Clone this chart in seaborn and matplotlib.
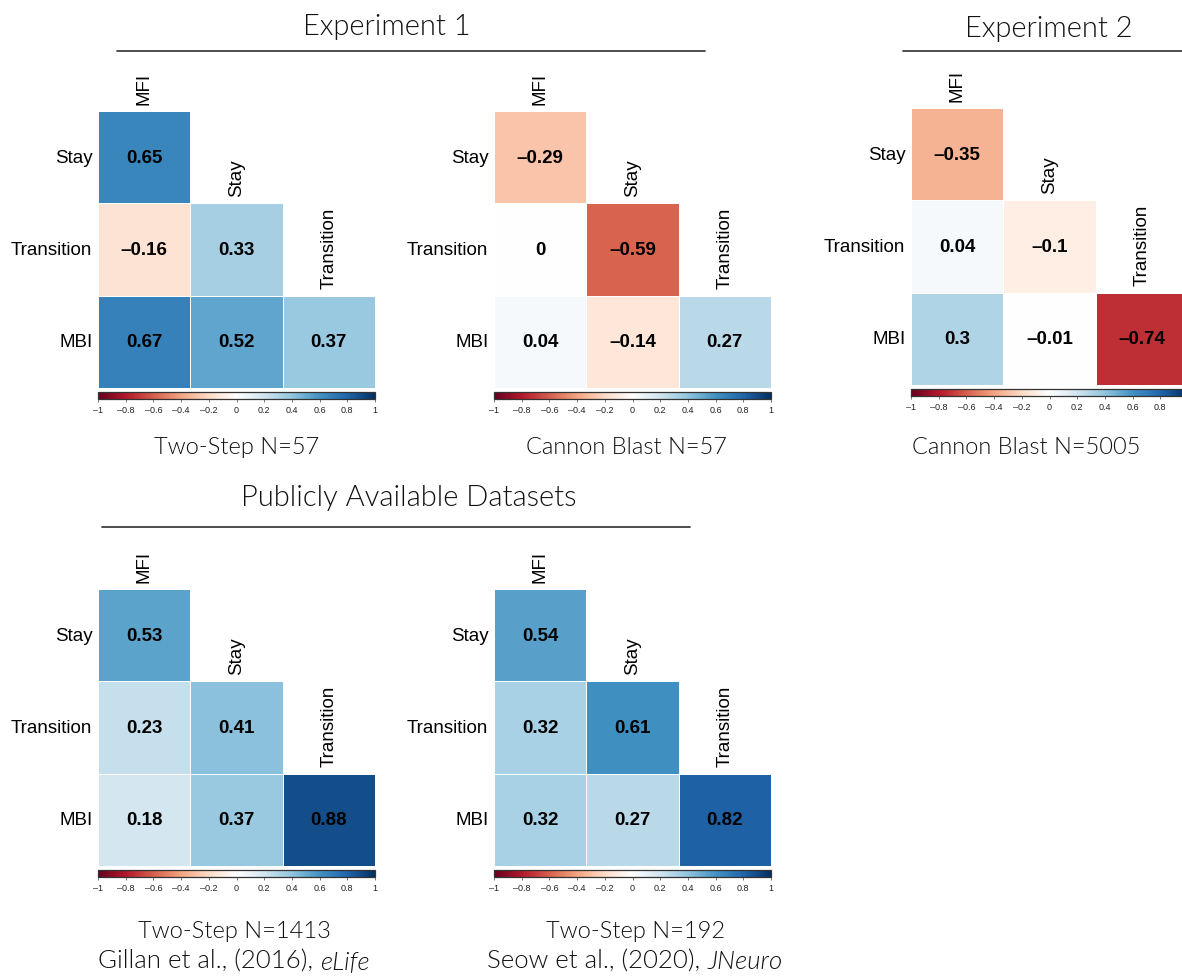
import numpy as np
import pandas as pd
import seaborn as sns
import matplotlib.pyplot as plt
from matplotlib.lines import Line2D
from matplotlib.colors import LinearSegmentedColormap

sns.set_theme(style="white")
plt.rcParams["font.family"] = ["Liberation Sans", "DejaVu Sans"]

# ---------------- data ----------------
row_labels = ["Stay", "Transition", "MBI"]
col_labels = ["MFI", "Stay", "Transition"]

# lower-triangle correlations (row by row)
exp1_two_step = [[0.65], [-0.16, 0.33], [0.67, 0.52, 0.37]]
exp1_cannon = [[-0.29], [0.0, -0.59], [0.04, -0.14, 0.27]]
exp2_cannon = [[-0.35], [0.04, -0.10], [0.30, -0.01, -0.74]]
gillan_two_step = [[0.53], [0.23, 0.41], [0.18, 0.37, 0.88]]
seow_two_step = [[0.54], [0.32, 0.61], [0.32, 0.27, 0.82]]

cbar_ticks = [-1, -0.8, -0.6, -0.4, -0.2, 0, 0.2, 0.4, 0.6, 0.8, 1]

# corrplot-style red/blue palette
palette_colors = ["#67001F", "#B2182B", "#D6604D", "#F4A582", "#FDDBC7", "#FFFFFF",
                  "#D1E5F0", "#92C5DE", "#4393C3", "#2166AC", "#053061"]
cmap = LinearSegmentedColormap.from_list("corr_rdbu", palette_colors, N=200)

captions = {
    "p1": [[("Two-Step N=57", "normal")]],
    "p2": [[("Cannon Blast N=57", "normal")]],
    "p3": [[("Cannon Blast N=5005", "normal")]],
    "p4": [[("Two-Step N=1413", "normal")],
           [("Gillan et al., (2016), ", "normal"), ("eLife", "italic")]],
    "p5": [[("Two-Step N=192", "normal")],
           [("Seow et al., (2020), ", "normal"), ("JNeuro", "italic")]],
}

# ---------------- layout ----------------
W, H = 1182, 978
fig = plt.figure(figsize=(W / 100, H / 100), dpi=100)
fig.patch.set_facecolor("white")


def add_ax(l, t, w, h):
    return fig.add_axes([l / W, 1 - (t + h) / H, w / W, h / H])


def fmt(v):
    s = f"{v:g}"
    if s == "-0":
        s = "0"
    return s.replace("-", "\u2013")


def to_frame(tri):
    m = np.full((3, 3), np.nan)
    for i, row in enumerate(tri):
        for j, v in enumerate(row):
            m[i, j] = v
    return pd.DataFrame(m, index=row_labels, columns=col_labels)


def panel(tri, left, top, size=277, hide_last_tick=False):
    df = to_frame(tri)
    mask = df.isna()
    annot = df.apply(lambda c: c.map(lambda v: "" if pd.isna(v) else fmt(v)))
    ax = add_ax(left, top, size, size)
    sns.heatmap(df, ax=ax, cmap=cmap, vmin=-1, vmax=1, mask=mask,
                annot=annot.values, fmt="", cbar=False,
                annot_kws=dict(fontsize=13.5, fontweight="bold", color="black"),
                linewidths=0.5, linecolor="white")
    ax.set_xticks([])
    ax.set_yticks(np.arange(3) + 0.5)
    ax.set_yticklabels(row_labels, rotation=0, fontsize=13.5, color="black")
    ax.tick_params(axis="y", left=False, length=0, pad=4)
    ax.set_xlabel("")
    ax.set_ylabel("")
    for sp in ax.spines.values():
        sp.set_visible(False)
    for j, lab in enumerate(col_labels):
        ax.text(j + 0.5, j - 0.08, lab, rotation=90, ha="center", va="bottom",
                fontsize=13.5, color="black")
    cax = add_ax(left, top + size + 3.5, size, 7.5)
    cb = fig.colorbar(ax.collections[0], cax=cax, orientation="horizontal")
    cb.set_ticks(cbar_ticks)
    labels = [fmt(t) for t in cbar_ticks]
    if hide_last_tick:
        labels[-1] = ""
    cb.set_ticklabels(labels)
    cax.tick_params(length=2, width=0.5, labelsize=6.5, pad=2,
                    color="#444444", labelcolor="#222222")
    cb.outline.set_linewidth(0.9)
    cb.outline.set_edgecolor("#333333")
    return ax


panel(exp1_two_step, 98, 112)
panel(exp1_cannon, 494, 112)
panel(exp2_cannon, 911, 109, hide_last_tick=True)
panel(gillan_two_step, 98, 590)
panel(seow_two_step, 494, 590)

cap_font = ["Lato", "DejaVu Sans"]
text_color = "#111111"
cap_weight = 300


def seg_text(segments, cx, cy, size):
    fig.canvas.draw()
    renderer = fig.canvas.get_renderer()
    texts = []
    total = 0
    for s, style in segments:
        t = fig.text(0, 1 - cy / H, s, fontsize=size, family=cap_font,
                     style=style, fontweight=cap_weight, ha="left", va="center",
                     color=text_color)
        w = t.get_window_extent(renderer).width
        texts.append((t, w))
        total += w
    x = cx - total / 2
    for t, w in texts:
        t.set_x(x / W)
        x += w


# headers
hdr = 21
for label, cx, cy in [("Experiment 1", 387, 27), ("Experiment 2", 1049, 29),
                      ("Publicly Available Datasets", 409, 498)]:
    fig.text(cx / W, 1 - cy / H, label, fontsize=hdr, family=cap_font,
             fontweight=cap_weight, ha="center", va="center", color=text_color)
for x0, x1, y in [(117, 705, 52), (903, 1182, 52), (102, 690, 528)]:
    fig.add_artist(Line2D([x0 / W, x1 / W], [1 - y / H, 1 - y / H],
                          color="#404040", lw=1.3))

cap = 17
seg_text(captions["p1"][0], 237, 448, cap)
seg_text(captions["p2"][0], 626, 448, cap)
seg_text(captions["p3"][0], 1026, 448, cap)
seg_text(captions["p4"][0], 234, 932, cap)
seg_text(captions["p4"][1], 234, 962, 18.5)
seg_text(captions["p5"][0], 636, 932, cap)
seg_text(captions["p5"][1], 635, 962, 18.5)

fig.savefig("out.png", dpi=100, facecolor="white")
